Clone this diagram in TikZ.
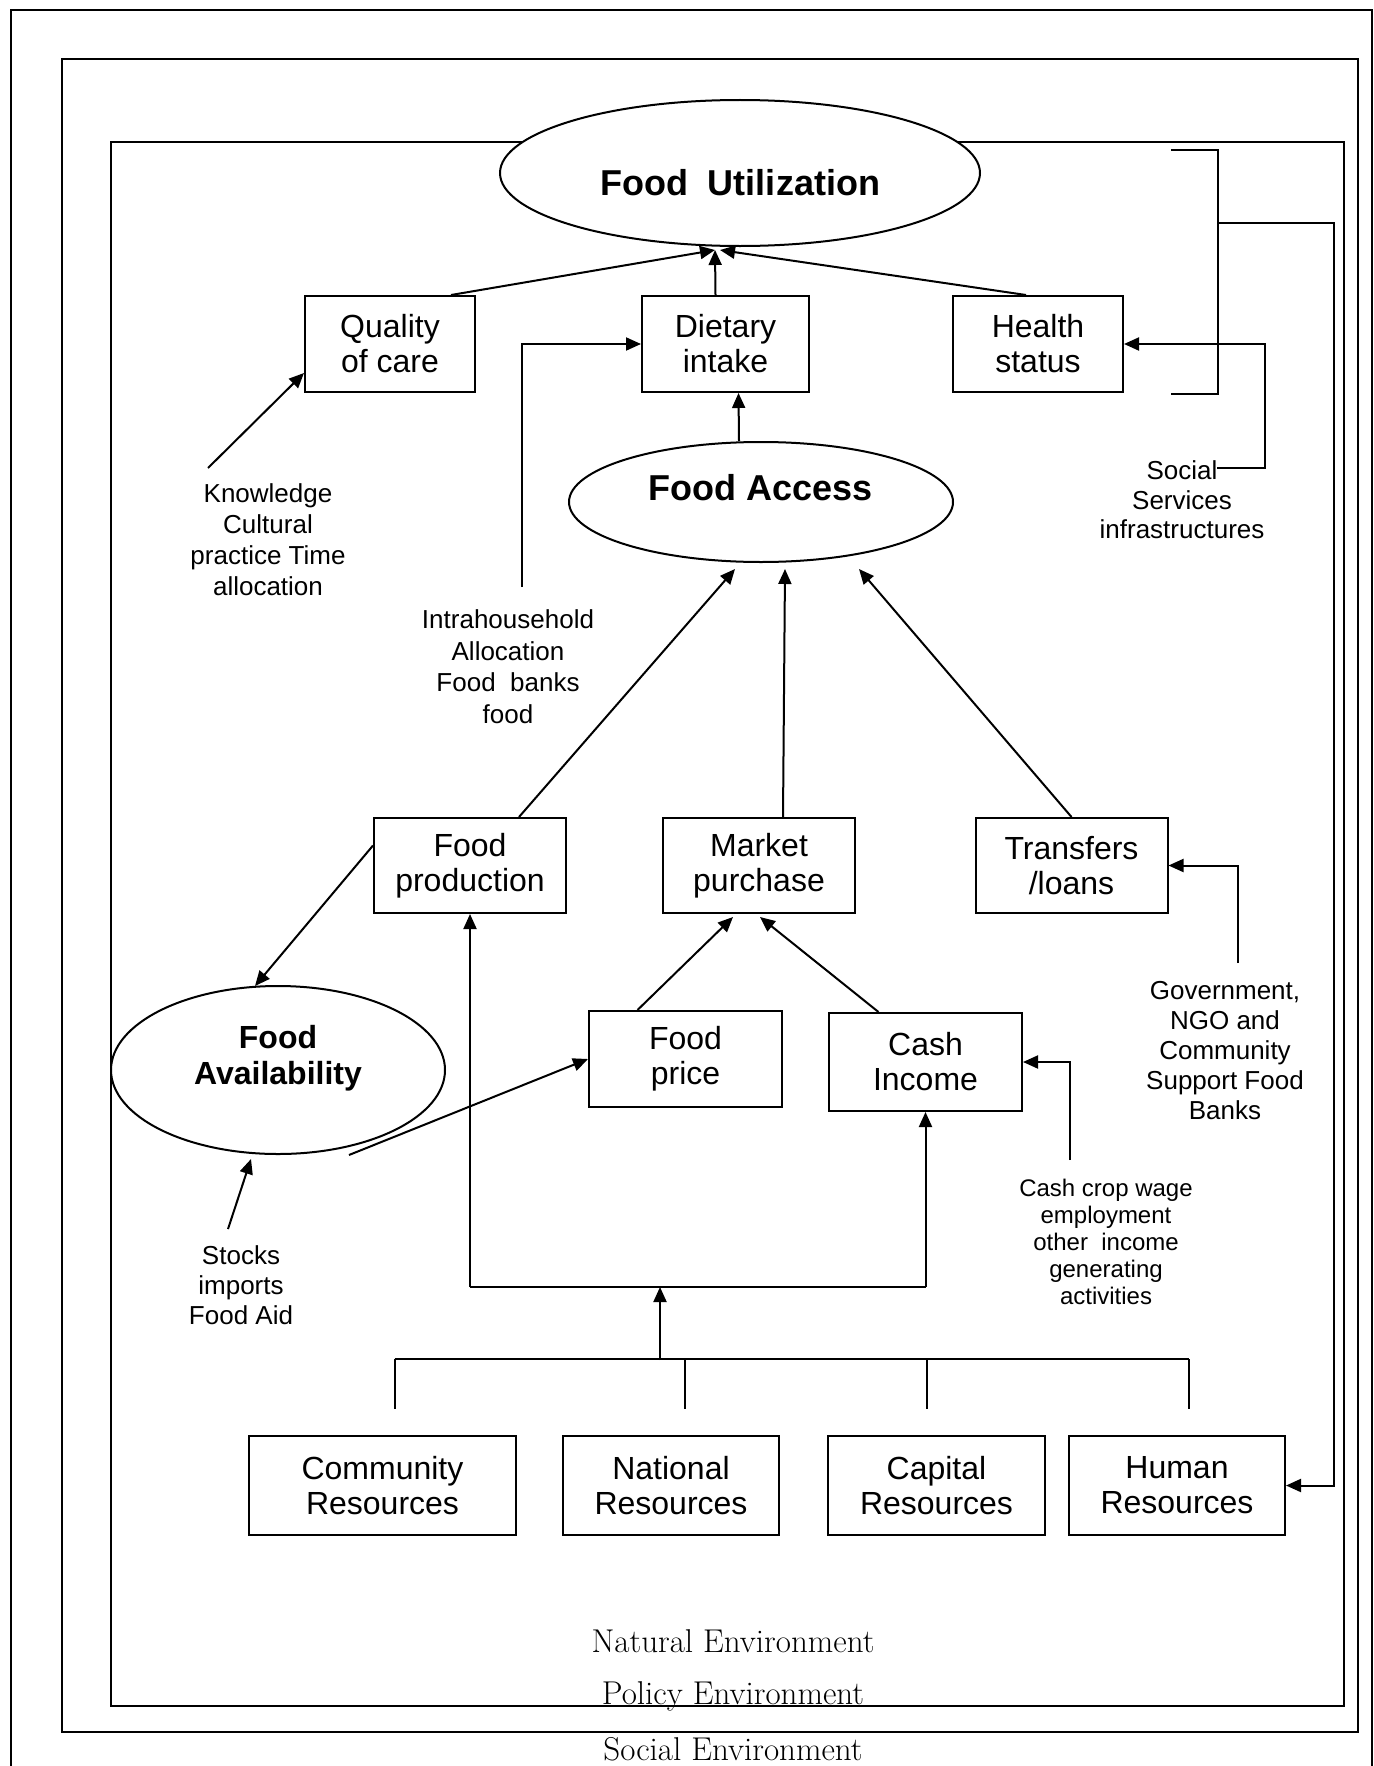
\documentclass[tikz,border=0pt]{standalone}
\usepackage{fontspec}
\setsansfont{Liberation Sans}
\usetikzlibrary{arrows.meta,calc,shapes.geometric}

\newcommand{\fsz}[2]{\fontsize{#1}{#2}\selectfont}

\begin{document}
\begin{tikzpicture}[x=0.5pt, y=-0.5pt, line width=1pt,
  box/.style={draw, rectangle, inner sep=0pt, align=center, font=\sffamily\fsz{16pt}{17.5pt}},
  oval/.style={draw, ellipse, fill=white, inner sep=0pt},
  head/.style={inner sep=0pt, align=center, font=\sffamily\bfseries\fsz{18pt}{18pt}},
  note/.style={inner sep=0pt, align=center, anchor=north, font=\sffamily\fsz{13pt}{15.5pt}},
  env/.style={anchor=base, font=\fsz{16.5pt}{18pt}},
  arr/.style={-{Triangle[length=7.5pt,width=6.5pt]}}]

  \useasboundingbox (0,0) rectangle (1374,1766);

  % environments
  \draw (11,1766) -- (11,10) -- (1372,10) -- (1372,1766);
  \draw (62,59) rectangle (1358,1732);
  \draw (111,142) rectangle (1344,1706);

  % utilization level
  \node[oval, minimum width=240pt, minimum height=73pt,
        label={[head, name=util_t, yshift=-5pt]center:Food\ \ Utilization}] (util) at (740,173) {};
  \node[box, minimum width=85pt, minimum height=48pt] (q_care) at (390,344) {Quality\\of care};
  \node[box, minimum width=83.5pt, minimum height=48pt] (diet) at (725.5,344) {Dietary\\intake};
  \node[box, minimum width=85pt, minimum height=48pt] (health) at (1038,344) {Health\\status};

  % access level
  \node[oval, minimum width=192pt, minimum height=60pt,
        label={[head, name=access_t, yshift=7pt]center:Food Access}] (access) at (761,502) {};
  \node[box, minimum width=96pt, minimum height=47.5pt] (f_prod) at (470,865.5) {Food\\production};
  \node[box, minimum width=96pt, minimum height=47.5pt] (mkt) at (759,865.5) {Market\\purchase};
  \node[box, minimum width=96pt, minimum height=47.5pt] (transf) at (1071.5,865.5) {Transfers\\/loans};

  % availability level
  \node[oval, minimum width=167pt, minimum height=84pt,
        label={[head, name=avail_t, font=\sffamily\bfseries\fsz{16pt}{18pt}, yshift=6pt]center:Food\\Availability}] (avail) at (278,1070) {};
  \node[box, minimum width=96.5pt, minimum height=48pt] (f_price) at (685.5,1059) {Food\\price};
  \node[box, minimum width=96.5pt, minimum height=49pt] (cash) at (925.5,1062) {Cash\\Income};

  % resources
  \node[box, minimum width=133.5pt, minimum height=49.5pt] (r_comm) at (382.5,1485.5) {Community\\Resources};
  \node[box, minimum width=108pt, minimum height=49.5pt] (r_nat) at (671,1485.5) {National\\Resources};
  \node[box, minimum width=108.5pt, minimum height=49.5pt] (r_cap) at (936.5,1485.5) {Capital\\Resources};
  \node[box, minimum width=108pt, minimum height=49.5pt] (r_hum) at (1177,1485.5) {Human\\Resources};

  % side notes
  \node[note] (t_know) at (268,483) {Knowledge\\Cultural\\practice Time\\allocation};
  \node[note, font=\sffamily\fsz{13pt}{15.75pt}] (t_intra) at (508,609) {Intrahousehold\\Allocation\\Food\ \ banks\\food};
  \node[note, font=\sffamily\fsz{13pt}{14.75pt}] (t_social) at (1182,460) {Social\\Services\\infrastructures};
  \node[note, font=\sffamily\fsz{13pt}{15pt}] (t_gov) at (1225,980) {Government,\\NGO and\\Community\\Support Food\\Banks};
  \node[note, font=\sffamily\fsz{12pt}{13.5pt}] (t_cashcrop) at (1106,1178) {Cash crop wage\\employment\\other\ \ income\\generating\\activities};
  \node[note, font=\sffamily\fsz{13pt}{15pt}] (t_stocks) at (241,1245) {Stocks\\imports\\Food Aid};

  \node[env] (e_nat) at (733,1652) {Natural Environment};
  \node[env] (e_pol) at (733,1704) {Policy Environment};
  \node[env] (e_soc) at (733,1760) {Social Environment};

  % into utilization
  \draw[arr] ($(q_care.north)+(61,0)$) -- ($(util.south)+(-25,3)$);
  \draw[arr] ($(diet.north)+(-10,0)$) -- ($(util.south)+(-25,3)$);
  \draw[arr] ($(health.north)+(-12,0)$) -- ($(util.south)+(-20,3)$);
  \draw[arr] ($(access.north)+(-22,0)$) -- ($(diet.south)+(13,0)$);
  \draw[arr] ($(t_know.north)+(-60,-15)$) -- ($(q_care.south west)+(0,-20)$);
  \draw[arr] ($(t_intra.north)+(14,-22)$) |- (diet.west);
  \draw[arr] ($(t_social.north)+(35,8)$) -- ($(t_social.north east)+(0,8)$) |- (health.east);

  % bracket to human resources
  \coordinate (br_mid) at (1218,223);
  \coordinate (br_out) at (1334,223);
  \draw (1171,150) -- (1218,150) -- (1218,394) -- (1171,394);
  \draw[arr] (br_mid) -- (br_out) |- (r_hum.east);

  % into access
  \draw[arr] ($(f_prod.north)+(49,0)$) -- ($(access.south)+(-26,6)$);
  \draw[arr] ($(mkt.north)+(24,0)$) -- ($(access.south)+(24,6)$);
  \draw[arr] (transf.north) -- ($(access.south)+(98,6)$);
  \draw[arr] ($(t_gov.north)+(13,-17)$) |- (transf.east);

  % availability and prices
  \draw[arr] ($(f_prod.west)+(0,-20)$) -- ($(avail.north)+(-23,1)$);
  \draw[arr] ($(avail.south)+(71,0)$) -- (f_price.west);
  \draw[arr] ($(t_stocks.north)+(-13,-16)$) -- ($(avail.south)+(-27,4)$);
  \draw[arr] ($(f_price.north)+(-48,0)$) -- ($(mkt.south)+(-26,3)$);
  \draw[arr] ($(cash.north)+(-47,0)$) -- ($(mkt.south)+(1,3)$);
  \draw[arr] ($(t_cashcrop.north)+(-36,-18)$) |- (cash.east);

  % resources feed production and income
  \coordinate (d_bar) at (660,1287);
  \coordinate (r_bar) at (660,1360);
  \draw (f_prod.south |- d_bar) -- (cash.south |- d_bar);
  \draw[arr] (f_prod.south |- d_bar) -- (f_prod.south);
  \draw[arr] (cash.south |- d_bar) -- (cash.south);
  \draw[arr] (r_bar) -- (d_bar);
  \draw ($(r_comm.north)+(12,-76)$) -- ($(r_hum.north)+(12,-76)$);
  \foreach \n/\d in {r_comm/12, r_nat/14, r_cap/-10, r_hum/12}
    \draw ($(\n.north)+(\d,-76)$) -- ($(\n.north)+(\d,-26)$);

\end{tikzpicture}
\end{document}
